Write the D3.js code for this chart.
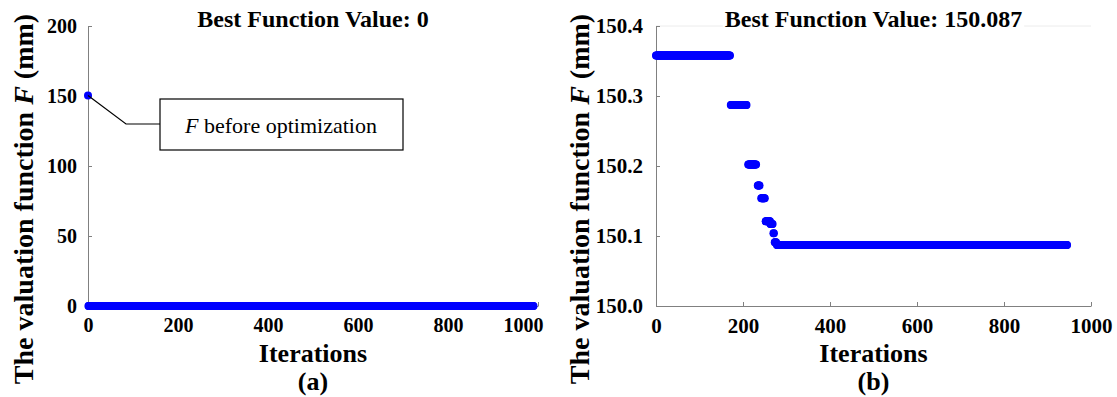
<html>
<script src='https://d3js.org/d3.v7.min.js'></script>
<style>
body {margin:0; background:white;}
svg text {font-family: "Liberation Serif", "Times New Roman", Times, "DejaVu Serif", serif !important;}
.axis path, .axis line {stroke:#808080; stroke-width:1;}
.axis text {font-weight:bold; fill:black;}
</style>
<body>
<svg width=1117 height=397 font-family="Liberation Serif"></svg>
<script>
// (a) run-length segments: first iteration, last iteration, value
const aStart = [0, 1];
const aEnd   = [0, 990];
const aValue = [150.36, 0];

// (b) run-length segments
const bStart = [0, 172, 212, 234, 242, 252, 263, 270, 273, 278];
const bEnd   = [170, 208, 230, 238, 250, 262, 268, 271, 276, 945];
const bValue = [150.358, 150.287, 150.202, 150.172, 150.154, 150.121, 150.117, 150.104, 150.091, 150.087];

const xTicks = [0, 200, 400, 600, 800, 1000];
const aYTicks = [0, 50, 100, 150, 200];
const bYTicks = [150.0, 150.1, 150.2, 150.3, 150.4];

function expand(starts, ends, vals) {
  var pts = [];
  for (var i = 0; i < starts.length; i++)
    for (var k = starts[i]; k <= ends[i]; k++) pts.push({it:k, v:vals[i]});
  return pts;
}

var svg = d3.select('svg');

function panel(opt) {
  var x = d3.scaleLinear([0,1000],[opt.x0,opt.x1]);
  var y = d3.scaleLinear(opt.ydom,[306,26]);
  var g = svg.append('g');

  if (opt.topLine)
    g.append('line').attr('x1',opt.x0).attr('x2',opt.x1).attr('y1',26).attr('y2',26)
     .attr('stroke','#ececec');

  g.append('g').attr('class','axis')
    .attr('transform','translate(0,306)')
    .style('font-size', opt.fs+'px')
    .call(d3.axisBottom(x).tickValues(xTicks).tickSize(-4).tickSizeOuter(0).tickPadding(12)
      .tickFormat(d3.format('d')))
    .call(function(s){ if (opt.shiftLast) s.selectAll('.tick:last-of-type text').attr('dx',-15); });

  g.append('g').attr('class','axis')
    .attr('transform','translate('+opt.x0+',0)')
    .style('font-size', opt.fs+'px')
    .call(d3.axisLeft(y).tickValues(opt.yticks).tickSize(-4).tickSizeOuter(0)
      .tickPadding(opt.ypad).tickFormat(opt.fmt));
  g.selectAll('.axis text').attr('font-size', null);

  g.append('g').selectAll('circle')
    .data(opt.pts)
    .enter().append('circle')
     .attr('cx', function(d){return x(d.it);})
     .attr('cy', function(d){return y(d.v);})
     .attr('r', 4)
     .attr('fill','#0000ff');

  var cx = (opt.x0 + opt.x1)/2;
  var t = g.append('text').attr('x',cx).attr('y',27).attr('text-anchor','middle')
    .attr('font-size',24).attr('font-weight','bold').text(opt.title);
  var bb = t.node().getBBox();
  g.insert('rect', function(){return t.node();})
    .attr('x',bb.x-2).attr('y',bb.y).attr('width',bb.width+4).attr('height',bb.height)
    .attr('fill','white');

  g.append('text').attr('x',cx).attr('y',362).attr('text-anchor','middle')
    .attr('font-size',26).attr('font-weight','bold').text('Iterations');
  g.append('text').attr('x',cx).attr('y',390).attr('text-anchor','middle')
    .attr('font-size',26).attr('font-weight','bold').text(opt.label);

  var yt = g.append('text')
    .attr('transform','translate('+opt.ytx+',199) rotate(-90)')
    .attr('text-anchor','middle').attr('font-size',28).attr('font-weight','bold');
  yt.append('tspan').text('The valuation function ');
  yt.append('tspan').attr('font-style','italic').text('F');
  yt.append('tspan').text(' (mm)');
  return {x:x, y:y, g:g};
}

var a = panel({x0:88, x1:538, ydom:[0,200], yticks:aYTicks, ypad:11, fmt:d3.format('d'), fs:20,
  pts:expand(aStart,aEnd,aValue), title:'Best Function Value: 0', label:'(a)', ytx:33, shiftLast:true});

var b = panel({x0:656, x1:1091, ydom:[150.0,150.4], yticks:bYTicks, ypad:13, fmt:d3.format('.1f'), fs:21,
  pts:expand(bStart,bEnd,bValue), title:'Best Function Value: 150.087', label:'(b)', ytx:589, topLine:true});

// annotation in (a)
var px = a.x(aStart[0]), py = a.y(aValue[0]);
a.g.append('polyline')
  .attr('points', [[px,py],[126,124],[160,124]].map(function(p){return p.join(',');}).join(' '))
  .attr('fill','none').attr('stroke','black').attr('stroke-width',1.2);
a.g.append('rect').attr('x',160).attr('y',99).attr('width',243).attr('height',51)
  .attr('fill','white').attr('stroke','black').attr('stroke-width',1.2);
var at = a.g.append('text').attr('x',281).attr('y',133).attr('text-anchor','middle').attr('font-size',22);
at.append('tspan').attr('font-style','italic').text('F');
at.append('tspan').text(' before optimization');
</script>
</body>
</html>
